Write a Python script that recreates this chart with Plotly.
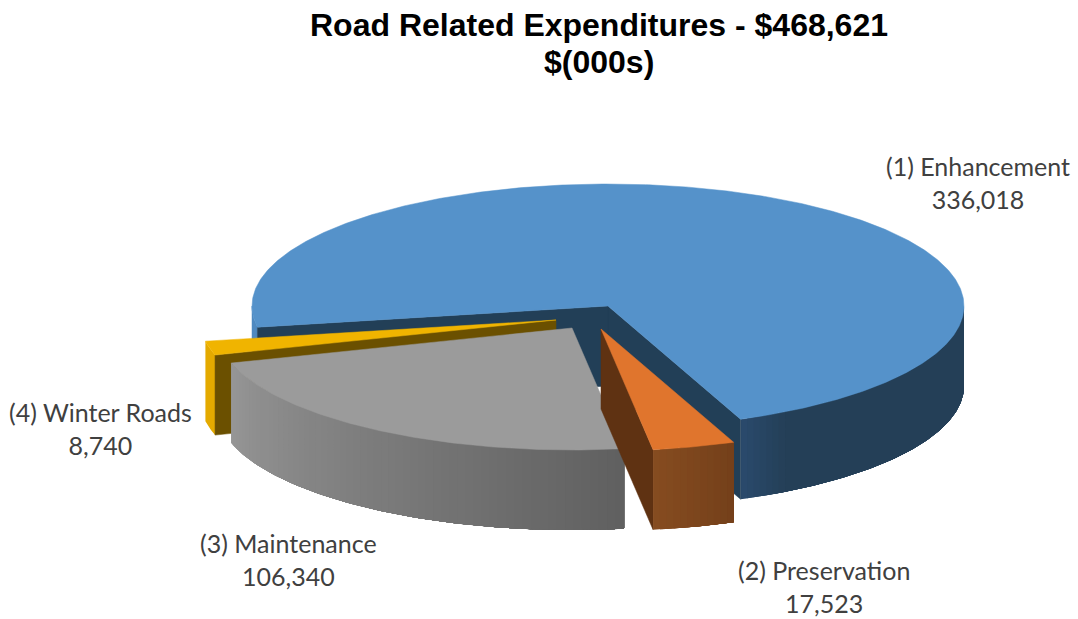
import math
import plotly.graph_objects as go

# ---- data ----
categories = ["(1) Enhancement", "(2) Preservation", "(3) Maintenance", "(4) Winter Roads"]
values = [336018, 17523, 106340, 8740]
title_lines = ["Road Related Expenditures - $468,621", "$(000s)"]

# ---- styles / layout (pixels of the 1078x619 canvas) ----
W, H = 1078, 619
FIRST_ANGLE = 260.0       # degrees clockwise from the top
RX, RY, DEPTH = 356.0, 122.0, 80.0
apex = [(608, 306), (601, 329), (572, 328), (556, 320)]
top_col = ["#5592ca", "#e0752d", "#9b9b9b", "#f0b400"]
cut_col = ["#223f57", "#5f3212", "#9b9b9b", "#6b5000"]
side_from = [(42, 74, 108), (134, 76, 32), (150, 150, 150), (228, 170, 0)]
side_to = [(36, 63, 87), (116, 64, 26), (96, 96, 96), (228, 170, 0)]
side_fade = [0.12, 1.0, 1.0, 1.0]    # share of the wall that the shading runs over
blue_edge_col = "#4f89c0"
label_xy = [(978, 182), (824, 586), (288, 559), (100, 428)]
title_y = [25, 62]

fig = go.Figure()


def pt(i, deg, dz=0.0):
    a = math.radians(deg)
    return apex[i][0] + RX * math.sin(a), apex[i][1] - RY * math.cos(a) + dz


def poly(points, color, lw=0.5):
    xs = [p[0] for p in points] + [points[0][0]]
    ys = [p[1] for p in points] + [points[0][1]]
    fig.add_trace(go.Scatter(x=xs, y=ys, mode="lines", fill="toself", fillcolor=color,
                             line=dict(color=color, width=lw), hoverinfo="skip",
                             showlegend=False))


def arc(i, a0, a1, dz=0.0, n=None):
    n = n or max(2, int(abs(a1 - a0) * 2))
    return [pt(i, a0 + (a1 - a0) * k / n, dz) for k in range(n + 1)]


def side(i, a0, a1, n=36):
    """Outer wall between angles: each band runs to the far end, so later bands overpaint."""
    for k in range(n):
        t = min(1.0, (k + 0.5) / n / side_fade[i])
        if k and t == 1.0 and (k - 0.5) / n / side_fade[i] >= 1.0:
            break
        b0 = a0 + (a1 - a0) * k / n
        c = tuple(round(side_from[i][j] + (side_to[i][j] - side_from[i][j]) * t) for j in range(3))
        poly(arc(i, b0, a1) + arc(i, a1, b0, DEPTH), "rgb(%d,%d,%d)" % c, 0)


def cut(i, deg, color):
    """Flat radial wall from the apex out to the rim at the given angle."""
    ax, ay = apex[i]
    rx, ry = pt(i, deg)
    poly([(ax, ay), (rx, ry), (rx, ry + DEPTH), (ax, ay + DEPTH)], color)


total = sum(values)
edges = [FIRST_ANGLE]
for v in values:
    edges.append(edges[-1] + v / total * 360.0)
a_blue0 = edges[0]
a_blue1 = edges[1]          # > 360
a_or0, a_or1 = edges[1] - 360, edges[2] - 360
a_gr0, a_gr1 = edges[2] - 360, edges[3] - 360
a_ye0, a_ye1 = edges[3] - 360, edges[4] - 360

# Blue slice: walls first, then the top
side(0, a_blue1 - 360, 90, 60)
poly(arc(0, a_blue0, 270) + arc(0, 270, a_blue0, DEPTH), blue_edge_col)
cut(0, a_blue1, cut_col[0])
cut(0, a_blue0, cut_col[0])
poly([apex[0]] + arc(0, a_blue0, a_blue1), top_col[0])

# Winter Roads
side(3, a_ye0, a_ye1, 1)
cut(3, a_ye0, cut_col[3])
poly([apex[3]] + arc(3, a_ye0, a_ye1), top_col[3])

# Maintenance
side(2, a_gr1, a_gr0, 60)
poly([apex[2]] + arc(2, a_gr0, a_gr1), top_col[2])

# Preservation
cut(1, a_or1, cut_col[1])
side(1, a_or1, a_or0, 12)
poly([apex[1]] + arc(1, a_or0, a_or1), top_col[1])

for name, v, (lx, ly) in zip(categories, values, label_xy):
    fig.add_annotation(x=lx, y=ly, xref="x", yref="y", showarrow=False, align="center",
                       text=f"{name}<br>{v:,}",
                       font=dict(family="Lato, Carlito, sans-serif", size=25, color="#404040"))

for line, ty in zip(title_lines, title_y):
    fig.add_annotation(x=599, y=ty, xref="x", yref="y", showarrow=False, align="center",
                       text=f"<b>{line}</b>",
                       font=dict(family="Liberation Sans, Arial, sans-serif", size=32, color="#000000"))

fig.update_layout(
    width=W, height=H, autosize=False,
    margin=dict(l=0, r=0, t=0, b=0),
    paper_bgcolor="white", plot_bgcolor="white", showlegend=False,
    xaxis=dict(range=[0, W], visible=False, fixedrange=True),
    yaxis=dict(range=[H, 0], visible=False, fixedrange=True),
)
fig.write_html("out.html", config=dict(displayModeBar=False),
               post_script="document.body.style.margin='0';document.body.style.overflow='hidden';")
